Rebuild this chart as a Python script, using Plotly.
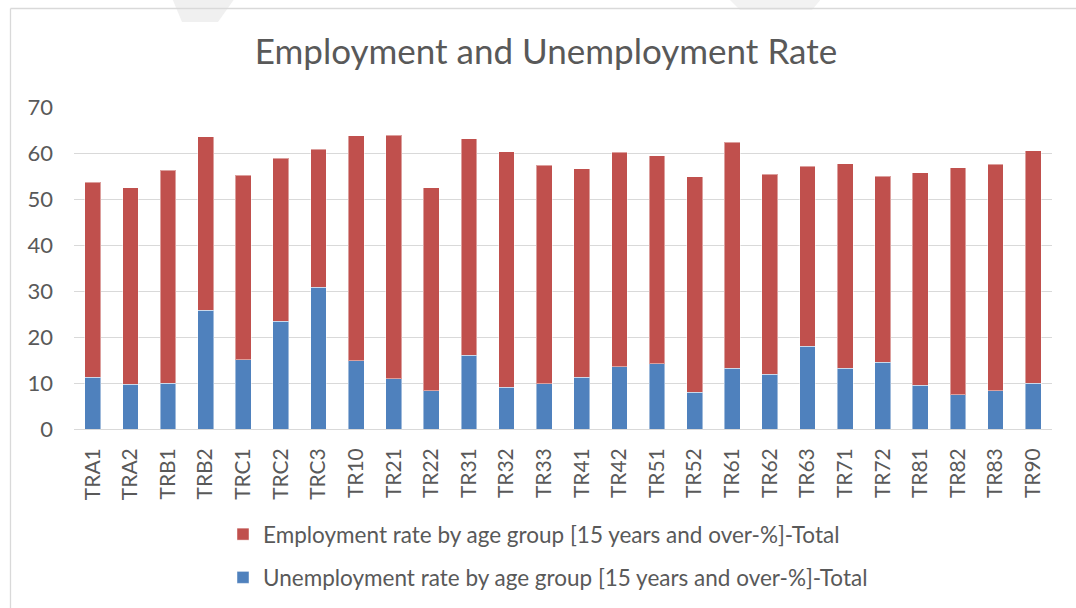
import plotly.graph_objects as go

# NUTS-2 regions
regions = ["TRA1", "TRA2", "TRB1", "TRB2", "TRC1", "TRC2", "TRC3", "TR10", "TR21",
           "TR22", "TR31", "TR32", "TR33", "TR41", "TR42", "TR51", "TR52", "TR61",
           "TR62", "TR63", "TR71", "TR72", "TR81", "TR82", "TR83", "TR90"]

# Unemployment rate, 15 years and over (%)
unemployment = [11.2, 9.7, 9.9, 25.8, 15.1, 23.4, 30.8, 14.8, 10.9,
                8.3, 16.0, 9.1, 9.8, 11.2, 13.5, 14.2, 8.0, 13.2,
                11.9, 18.0, 13.2, 14.5, 9.5, 7.5, 8.3, 9.9]

# Employment rate, 15 years and over (%)
employment = [42.4, 42.8, 46.3, 37.7, 40.1, 35.5, 30.0, 48.9, 53.0,
              44.2, 47.1, 51.2, 47.5, 45.4, 46.7, 45.2, 46.8, 49.1,
              43.5, 39.1, 44.5, 40.5, 46.2, 49.3, 49.3, 50.6]

y_ticks = [0, 10, 20, 30, 40, 50, 60, 70]

TEXT = "#595959"
GRID = "#d9d9d9"
FONT = "Lato, 'Open Sans', sans-serif"

fig = go.Figure()
fig.add_trace(go.Bar(
    x=regions, y=unemployment,
    name="Unemployment rate by age group [15 years and over-%]-Total",
    marker=dict(color="#4f81bd", line=dict(color="rgba(255,255,255,0.45)", width=1)),
    legendgroup="u", legendrank=2,
))
fig.add_trace(go.Bar(
    x=regions, y=employment,
    name="Employment rate by age group [15 years and over-%]-Total",
    marker=dict(color="#c0504d", line=dict(color="rgba(255,255,255,0.45)", width=1)),
    legendgroup="e", legendrank=1,
))

# plot area spans x 74..1052 px, y 107..429 px
W, H = 1076, 608
L, R, T, B = 74, 24, 107, 179
pw, ph = W - L - R, H - T - B

def px_x(x):
    return (x - L) / pw

def px_y(y):
    return (H - B - y) / ph

shapes = [
    # faint background marks at the top edge
    dict(type="path", xref="paper", yref="paper", layer="below",
         path=f"M {px_x(172)} {px_y(-2)} L {px_x(235)} {px_y(-2)} L {px_x(218)} {px_y(22)} L {px_x(182)} {px_y(22)} Z",
         fillcolor="#f0f0f0", line=dict(width=0)),
    dict(type="path", xref="paper", yref="paper", layer="below",
         path=f"M {px_x(728)} {px_y(-2)} L {px_x(822)} {px_y(-2)} L {px_x(812)} {px_y(10)} L {px_x(740)} {px_y(10)} Z",
         fillcolor="#f2f2f2", line=dict(width=0)),
    # chart frame: left and top edges (the rest lies outside the page)
    dict(type="line", xref="paper", yref="paper", layer="below",
         x0=px_x(10.5), x1=px_x(10.5), y0=px_y(612), y1=px_y(8.5),
         line=dict(color=GRID, width=1.3)),
    dict(type="line", xref="paper", yref="paper", layer="below",
         x0=px_x(10.5), x1=px_x(1080), y0=px_y(8.5), y1=px_y(8.5),
         line=dict(color=GRID, width=1.3)),
]

fig.update_layout(
    width=W, height=H,
    margin=dict(l=L, r=R, t=T, b=B, autoexpand=False),
    barmode="stack",
    bargap=0.58,
    paper_bgcolor="white",
    plot_bgcolor="rgba(0,0,0,0)",
    font=dict(family=FONT, color=TEXT),
    title=dict(text="Employment and Unemployment Rate",
               x=546 / W, xanchor="center", y=1 - 52 / H, yanchor="middle",
               font=dict(family=FONT, size=35, color=TEXT)),
    xaxis=dict(tickangle=-90, tickfont=dict(size=21, color=TEXT),
               showgrid=False, showline=False, ticks="",
               ticklabelstandoff=14, categoryorder="array", categoryarray=regions),
    yaxis=dict(range=[0, 70], tickvals=y_ticks, tickfont=dict(size=22, color=TEXT),
               showgrid=True, gridcolor=GRID, gridwidth=1.3,
               zeroline=True, zerolinecolor=GRID, zerolinewidth=1.3,
               showline=False, ticks="", ticklabelstandoff=20),
    legend=dict(orientation="v", traceorder="grouped", tracegroupgap=11,
                xref="container", yref="container",
                x=223 / W, xanchor="left", y=1 - 513 / H, yanchor="top",
                font=dict(size=22.5, color=TEXT), bgcolor="rgba(0,0,0,0)"),
    shapes=shapes,
)

fig.write_html("out.html")
